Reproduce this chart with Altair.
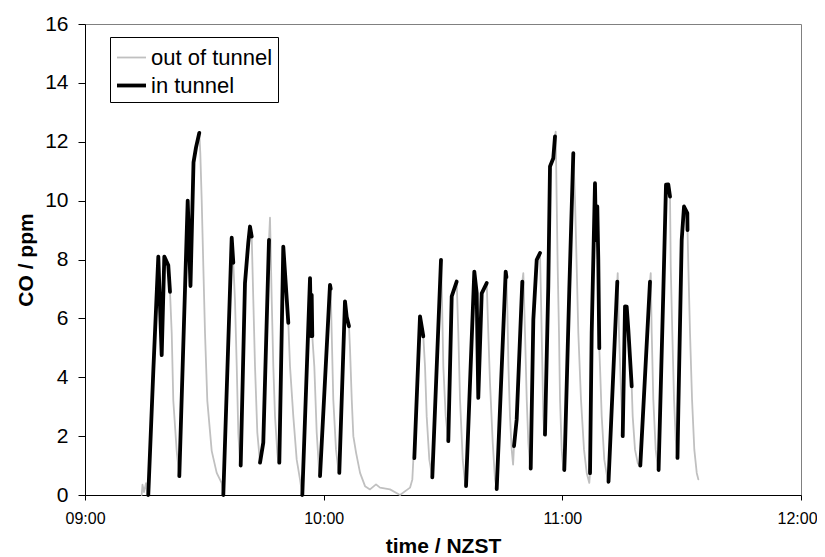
import altair as alt
import pandas as pd

# minutes after 09:00 NZST and CO (ppm)
tunnel_min = [
    [15.91, 17.2, 18.43, 19.28, 19.94, 20.94, 21.37],
    [23.71, 25.82, 26.52, 27.28, 27.90, 28.73],
    [34.77, 36.88, 37.28],
    [39.14, 40.22, 41.05, 41.48, 41.91],
    [44.0, 44.82, 46.26],
    [48.85, 49.85, 50.28, 51.11],
    [54.63, 56.57, 56.82, 56.99, 57.14],
    [59.08, 61.59, 61.77],
    [63.93, 65.36, 65.79, 66.37],
    [82.79, 84.22, 85.05],
    [87.31, 89.50],
    [91.33, 92.19, 93.44],
    [95.79, 97.87, 98.47, 98.87, 99.73, 100.99],
    [103.50, 105.76, 105.95],
    [107.85, 108.52, 109.94],
    [112.05, 112.71, 113.56, 114.39],
    [115.64, 116.47, 116.90, 117.73, 118.16],
    [120.49, 120.67, 121.75, 122.76],
    [126.96, 127.38, 128.21, 128.46, 128.79, 129.04, 129.29],
    [131.61, 133.82],
    [135.18, 135.76, 136.18, 136.59, 137.44],
    [139.60, 142.04],
    [144.20, 145.38, 146.06, 146.64, 147.07],
    [148.95, 149.16, 150.01, 150.59, 151.42, 151.47],
]
tunnel_ppm = [
    [0.0, 4.3, 8.1, 4.75, 8.1, 7.8, 6.9],
    [0.64, 10.0, 7.1, 11.3, 11.8, 12.3],
    [0.0, 8.74, 7.89],
    [1.0, 7.2, 8.57, 9.12, 8.78],
    [1.1, 1.78, 8.67],
    [1.1, 8.44, 7.55, 5.85],
    [0.0, 7.37, 5.4, 6.8, 5.4],
    [0.64, 7.14, 7.0],
    [0.75, 6.58, 6.05, 5.73],
    [1.25, 6.07, 5.39],
    [0.6, 7.99],
    [1.83, 6.75, 7.25],
    [0.3, 7.59, 6.86, 3.3, 6.85, 7.2],
    [0.2, 7.59, 7.4],
    [1.66, 2.56, 7.25],
    [0.9, 5.96, 7.99, 8.22],
    [2.05, 7.09, 11.16, 11.44, 12.18],
    [0.85, 1.6, 6.97, 11.61],
    [0.74, 5.5, 10.59, 8.66, 9.8, 7.99, 4.99],
    [0.45, 7.25],
    [2.0, 6.41, 6.4, 5.62, 3.69],
    [1.0, 7.25],
    [0.85, 6.86, 10.54, 10.55, 10.14],
    [1.26, 2.9, 8.67, 9.8, 9.58, 9.0],
]
outside_min = [
    [14.25, 14.45, 14.83, 15.34, 15.70],
    [21.80, 22.20, 23.05],
    [28.99, 29.34, 29.74, 30.17, 30.75, 31.85, 33.11, 34.37],
    [37.71, 38.14, 38.54, 38.97],
    [42.31, 42.74, 43.32],
    [46.51, 46.94, 47.34, 47.77, 48.35, 48.60],
    [51.54, 52.37, 53.22, 54.05],
    [57.65, 58.25, 58.83],
    [62.02, 62.42, 63.10, 63.68],
    [66.63, 67.06, 67.46, 68.14, 69.15, 70.40, 71.65, 73.16, 74.16, 76.68, 79.19, 81.71, 82.29, 82.54],
    [85.48, 85.90, 86.56],
    [89.75, 90.08, 90.68],
    [93.85, 94.28, 94.96, 95.54],
    [101.39, 101.82, 102.50, 103.07],
    [106.2, 106.45, 106.84, 107.27, 107.62],
    [110.19, 110.62, 111.05, 111.45, 111.88],
    [114.64, 114.97, 115.22, 115.47],
    [118.33, 118.58, 118.83, 119.16, 119.42, 119.84, 120.24],
    [123.19, 123.61, 124.02, 124.69, 125.45, 126.13, 126.78],
    [129.47, 129.90, 130.55, 131.40],
    [133.92, 134.25, 134.68],
    [137.69, 138.27, 138.95, 139.45],
    [142.22, 142.47, 142.87, 143.47, 144.05],
    [147.25, 147.65, 148.08, 148.51, 148.88],
    [151.68, 152.10, 152.61, 153.18, 153.79, 154.19],
]
outside_ppm = [
    [0.0, 0.35, 0.1, 0.4, 0.0],
    [5.5, 3.2, 1.5],
    [11.6, 10.0, 7.8, 5.5, 3.2, 1.5, 0.75, 0.4],
    [6.6, 4.4, 2.1, 1.1],
    [6.63, 4.37, 2.12],
    [9.42, 6.63, 4.37, 2.67, 1.44, 1.1],
    [4.37, 2.67, 1.2, 0.53],
    [4.37, 2.12, 0.87],
    [5.5, 3.24, 1.54, 0.87],
    [4.94, 3.24, 2.0, 1.44, 0.75, 0.3, 0.19, 0.36, 0.25, 0.19, 0.0, 0.25, 0.53, 1.2],
    [4.37, 2.67, 1.2],
    [6.63, 4.37, 2.67],
    [5.5, 3.24, 1.2, 0.42],
    [5.5, 3.8, 1.78, 0.53],
    [6.2, 4.37, 2.67, 1.54, 1.03],
    [7.54, 5.5, 3.24, 1.78, 0.98],
    [6.63, 4.37, 2.67, 2.05],
    [12.34, 10.03, 7.76, 5.5, 3.24, 1.54, 0.87],
    [10.03, 7.76, 5.5, 3.24, 1.54, 0.75, 0.41],
    [4.37, 2.67, 1.2, 0.5],
    [7.54, 5.5, 3.8],
    [2.67, 1.54, 1.09, 0.98],
    [7.54, 5.5, 3.24, 1.54, 0.87],
    [7.76, 5.5, 3.24, 1.88, 1.26],
    [7.76, 5.5, 3.24, 1.54, 0.75, 0.53],
]
series_names = ["out of tunnel", "in tunnel"]
series_colors = ["#c0c0c0", "#000000"]
series_widths = [1.8, 3.8]
x_tick_values = [0, 60, 120, 180]
x_tick_labels = ["09:00", "10:00", "11:00", "12:00"]
y_tick_values = [0, 2, 4, 6, 8, 10, 12, 14, 16]

# full record (grey) = outside pieces interleaved with tunnel passes
full_rows = []
for k in range(len(outside_min)):
    for m, v in zip(outside_min[k], outside_ppm[k]):
        full_rows.append({"minute": m, "ppm": v})
    if k < len(tunnel_min):
        for m, v in zip(tunnel_min[k], tunnel_ppm[k]):
            full_rows.append({"minute": m, "ppm": v})
full = pd.DataFrame(full_rows)
full["series"] = series_names[0]
full["idx"] = range(len(full))

tun_rows = []
for k in range(len(tunnel_min)):
    for m, v in zip(tunnel_min[k], tunnel_ppm[k]):
        tun_rows.append({"minute": m, "ppm": v, "pass": k})
tun = pd.DataFrame(tun_rows)
tun["series"] = series_names[1]

label_expr = "[" + ",".join("'%s'" % s for s in x_tick_labels) + "][datum.value/60]"

x_enc = alt.X("minute:Q",
              scale=alt.Scale(domain=[0, 180], nice=False, zero=False),
              axis=alt.Axis(values=x_tick_values, labelExpr=label_expr, title="time / NZST",
                            grid=False, tickSize=5, labelPadding=10, labelFontSize=16,
                            titlePadding=9, labelFlush=False,
                            labelOffset={"condition": {"test": "datum.value == 180", "value": -4}, "value": 0}))
y_enc = alt.Y("ppm:Q",
              scale=alt.Scale(domain=[0, 16], nice=False),
              axis=alt.Axis(values=y_tick_values, title="CO / ppm", grid=False, tickSize=7,
                            labelPadding=10, labelFontSize=21, titlePadding=8))

legend = alt.Legend(title=None, orient="none", legendX=25, legendY=13,
                    strokeColor="black", fillColor="white", padding=5,
                    symbolType="stroke", symbolSize=841, labelFontSize=22,
                    labelOffset=3, rowPadding=0, labelColor="black")
color_enc = alt.Color("series:N", scale=alt.Scale(domain=series_names, range=series_colors), legend=legend)
width_enc = alt.StrokeWidth("series:N", scale=alt.Scale(domain=series_names, range=series_widths), legend=legend)

grey = alt.Chart(full).mark_line(strokeJoin="round", strokeCap="round").encode(
    x=x_enc, y=y_enc, color=color_enc, strokeWidth=width_enc, order="idx:Q")
black = alt.Chart(tun).mark_line(strokeJoin="round", strokeCap="round").encode(
    x=x_enc, y=y_enc, color=color_enc, strokeWidth=width_enc, detail="pass:N")

chart = alt.layer(grey, black).properties(
    width=716, height=471,
    autosize=alt.AutoSizeParams(type="none"),
    padding={"left": 77, "top": 16, "right": 16, "bottom": 62},
).configure_view(stroke="#808080", strokeWidth=1).configure_axis(
    labelFont="Liberation Sans", titleFont="Liberation Sans", labelColor="black",
    titleColor="black", domainColor="black", tickColor="black", titleFontSize=21,
    titleFontWeight="bold", domainWidth=1, tickWidth=1,
).configure_legend(labelFont="Liberation Sans")

chart.save("out.html", embed_options={"renderer": "svg", "actions": False})
